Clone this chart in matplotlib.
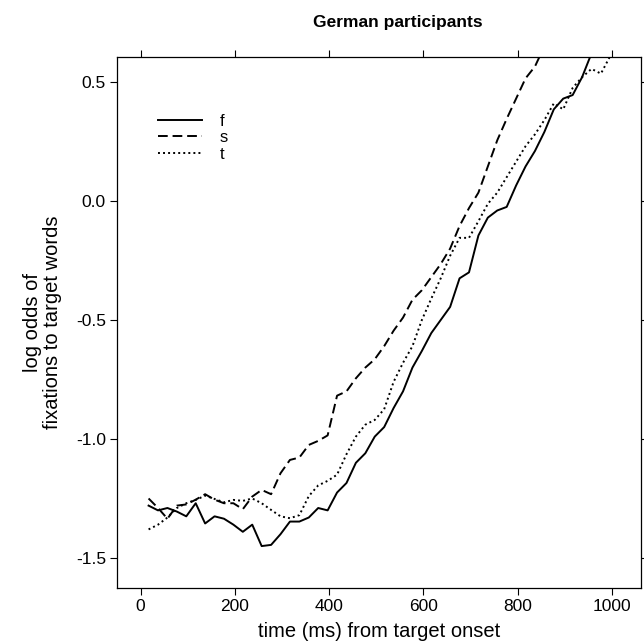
import matplotlib
matplotlib.use('Agg')
import matplotlib.pyplot as plt

plt.rcParams['font.family'] = ['Liberation Sans', 'DejaVu Sans']

# time points (ms from target onset)
time_ms = [17, 37, 57, 77, 97, 117, 137, 157, 177, 197,
           217, 237, 257, 277, 297, 317, 337, 357, 377, 397,
           417, 437, 457, 477, 497, 517, 537, 557, 577, 597,
           617, 637, 657, 677, 697, 717, 737, 757, 777, 797,
           817, 837, 857, 877, 897, 917, 937, 957, 977, 997]

# log odds of fixations to target words, per condition
f_vals = [-1.28, -1.30, -1.29, -1.305, -1.325, -1.27, -1.355, -1.325, -1.335, -1.36,
          -1.39, -1.36, -1.45, -1.445, -1.40, -1.347, -1.347, -1.33, -1.29, -1.30,
          -1.225, -1.185, -1.10, -1.06, -0.99, -0.95, -0.87, -0.80, -0.70, -0.63,
          -0.555, -0.50, -0.445, -0.325, -0.30, -0.145, -0.07, -0.04, -0.025, 0.065,
          0.145, 0.21, 0.29, 0.385, 0.43, 0.445, 0.52, 0.62]
s_vals = [-1.25, -1.29, -1.335, -1.28, -1.275, -1.255, -1.232, -1.255, -1.27, -1.27,
          -1.295, -1.242, -1.214, -1.232, -1.144, -1.088, -1.078, -1.025, -1.008, -0.985,
          -0.818, -0.80, -0.745, -0.70, -0.665, -0.61, -0.545, -0.49, -0.415, -0.375,
          -0.32, -0.265, -0.20, -0.105, -0.03, 0.035, 0.145, 0.255, 0.345, 0.43,
          0.515, 0.565, 0.65]
t_vals = [-1.38, -1.36, -1.33, -1.29, -1.27, -1.256, -1.238, -1.252, -1.266, -1.256,
          -1.26, -1.25, -1.27, -1.298, -1.325, -1.333, -1.32, -1.24, -1.195, -1.176,
          -1.15, -1.064, -0.99, -0.94, -0.92, -0.875, -0.76, -0.68, -0.61, -0.50,
          -0.41, -0.325, -0.23, -0.155, -0.155, -0.085, -0.012, 0.035, 0.10, 0.165,
          0.23, 0.28, 0.34, 0.41, 0.385, 0.475, 0.52, 0.555, 0.535, 0.61]

series = [('f', f_vals, '-'),
          ('s', s_vals, (0, (5, 2.5))),
          ('t', t_vals, (0, (1, 1.6)))]

x_ticks = [0, 200, 400, 600, 800, 1000]
y_ticks = [-1.5, -1.0, -0.5, 0.0, 0.5]

fig = plt.figure(figsize=(6.44, 6.44), dpi=100)
ax = fig.add_axes([0.1817, 0.087, 0.8136, 0.8238])

for name, vals, ls in series:
    ax.plot(time_ms[:len(vals)], vals, color='black', linestyle=ls, lw=1.4, label=name)

ax.set_xlim(-50, 1062)
ax.set_ylim(-1.626, 0.603)
ax.set_xticks(x_ticks)
ax.set_yticks(y_ticks)
ax.set_yticklabels(['%.1f' % v for v in y_ticks])
ax.tick_params(direction='out', length=5, width=0.8, labelsize=12.5,
               top=True, right=True, pad=3)
ax.tick_params(axis='y', pad=3)
for sp in ax.spines.values():
    sp.set_linewidth(0.9)

ax.set_xlabel('time (ms) from target onset', fontsize=14.5, labelpad=6)
ax.set_ylabel('log odds of\nfixations to target words', fontsize=14.5, labelpad=10,
              linespacing=1.05)
ax.set_title('German participants', fontsize=12.5, fontweight='bold', pad=22,
             x=0.536)

ax.legend(loc='upper left', bbox_to_anchor=(0.063, 0.91), frameon=False,
          fontsize=12, handlelength=2.6, handletextpad=1.1, labelspacing=0.1,
          borderpad=0)

fig.savefig('out.png', dpi=100)
